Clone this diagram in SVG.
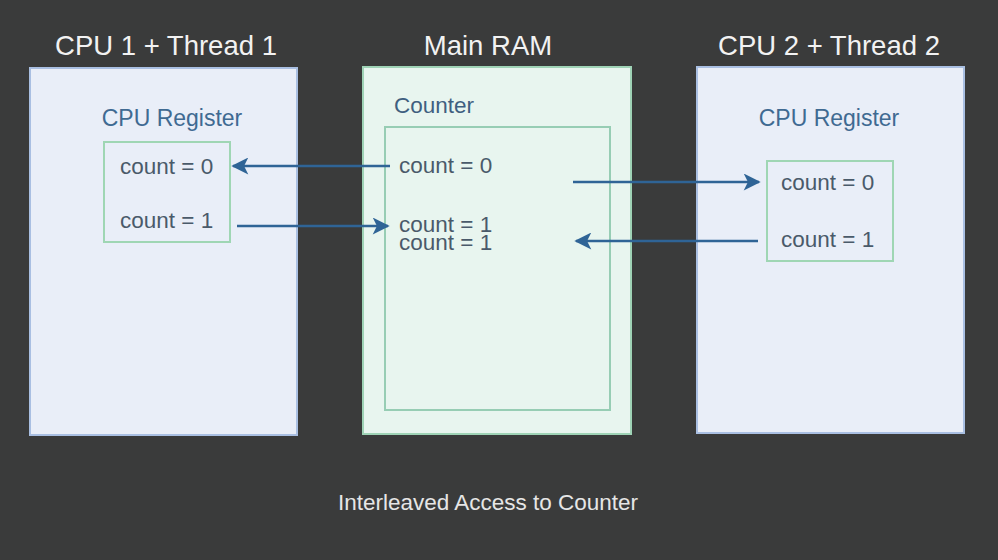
<svg xmlns="http://www.w3.org/2000/svg" width="998" height="560" viewBox="0 0 998 560">
<style>
.t{font-family:"Liberation Sans",Arial,sans-serif;}
.title{font-size:27.5px;fill:#f2f2f2;text-anchor:middle;}
.reg{font-size:23px;fill:#3f6a92;text-anchor:middle;}
.c{font-size:22.5px;fill:#4a5a6a;}
.cpu{fill:#e9eef8;stroke:#a9bfe2;stroke-width:2;}
.ram{fill:#e8f5ef;stroke:#9fd3b6;stroke-width:2;}
.inner{fill:#e8f5ef;stroke:#97cdb4;stroke-width:2;}
.rbox{fill:none;stroke:#9fd6b4;stroke-width:2;}
.conn{stroke:#2f6496;stroke-width:2.5;fill:none;marker-end:url(#ah);}
</style>
<defs>
<marker id="ah" viewBox="0 0 20 20" refX="18" refY="10" markerWidth="18" markerHeight="17" markerUnits="userSpaceOnUse" orient="auto">
<path d="M0,0 L20,10 L0,20 L5,10 Z" fill="#2f6496"/>
</marker>
</defs>
<rect width="998" height="560" fill="#3a3b3b"/>
<g id="cpu1">
<text class="t title" x="166" y="55">CPU 1 + Thread 1</text>
<rect class="cpu" x="30" y="68" width="267" height="367"/>
<text class="t reg" x="172" y="126">CPU Register</text>
<rect class="rbox" x="104" y="142" width="126" height="100"/>
<text class="t c" x="120" y="174">count = 0</text>
<text class="t c" x="120" y="228">count = 1</text>
</g>
<g id="ram">
<text class="t title" x="488" y="55">Main RAM</text>
<rect class="ram" x="363" y="67" width="268" height="367"/>
<text class="t c" x="394" y="113" style="fill:#3f5f80">Counter</text>
<rect class="inner" x="385" y="127" width="225" height="283"/>
<text class="t c" x="399" y="173">count = 0</text>
<text class="t c" x="399" y="232">count = 1</text>
<text class="t c" x="399" y="250">count = 1</text>
</g>
<g id="cpu2">
<text class="t title" x="829" y="55">CPU 2 + Thread 2</text>
<rect class="cpu" x="697" y="67" width="267" height="366"/>
<text class="t reg" x="829" y="126">CPU Register</text>
<rect class="rbox" x="767" y="161" width="126" height="100"/>
<text class="t c" x="781" y="190">count = 0</text>
<text class="t c" x="781" y="247">count = 1</text>
</g>
<g id="connectors">
<path class="conn" d="M390,166 L233,166"/>
<path class="conn" d="M237,226 L388,226"/>
<path class="conn" d="M573,182 L759,182"/>
<path class="conn" d="M758,241 L576,241"/>
</g>
<text class="t" x="488" y="510" font-size="22.5" fill="#e6e6e6" text-anchor="middle">Interleaved Access to Counter</text>
</svg>
